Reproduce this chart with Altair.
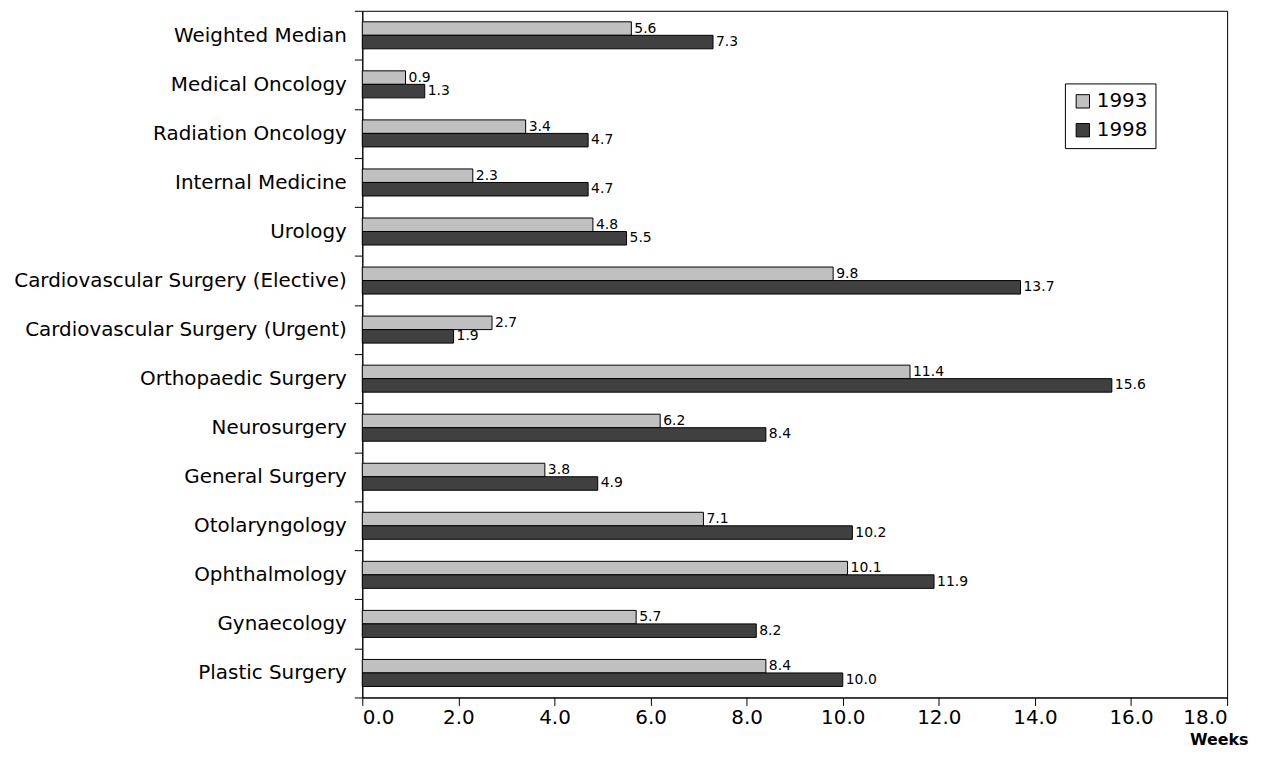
import altair as alt
import pandas as pd

categories = ["Weighted Median", "Medical Oncology", "Radiation Oncology", "Internal Medicine",
              "Urology", "Cardiovascular Surgery (Elective)", "Cardiovascular Surgery (Urgent)",
              "Orthopaedic Surgery", "Neurosurgery", "General Surgery", "Otolaryngology",
              "Ophthalmology", "Gynaecology", "Plastic Surgery"]
v1993 = [5.6, 0.9, 3.4, 2.3, 4.8, 9.8, 2.7, 11.4, 6.2, 3.8, 7.1, 10.1, 5.7, 8.4]
v1998 = [7.3, 1.3, 4.7, 4.7, 5.5, 13.7, 1.9, 15.6, 8.4, 4.9, 10.2, 11.9, 8.2, 10.0]
years = ["1993", "1998"]
x_ticks = [0, 2, 4, 6, 8, 10, 12, 14, 16, 18]

rows = []
for c, a, b in zip(categories, v1993, v1998):
    rows.append({"cat": c, "year": years[0], "val": a})
    rows.append({"cat": c, "year": years[1], "val": b})
df = pd.DataFrame(rows)

FONT = "DejaVu Sans"

y = alt.Y("cat:N", sort=categories, title=None,
          scale=alt.Scale(paddingInner=0, paddingOuter=0),
          axis=alt.Axis(tickBand="extent", labelFontSize=20, labelFont=FONT, labelColor="black",
                        tickColor="black", domainColor="black", tickSize=8, labelPadding=8,
                        labelLimit=600))
yoff = alt.YOffset("year:N", sort=years, scale=alt.Scale(paddingInner=0, paddingOuter=0.815))
x = alt.X("val:Q", scale=alt.Scale(domain=[0, 18], nice=False),
          axis=alt.Axis(values=x_ticks, format=".1f", labelFontSize=20, labelFont=FONT,
                        labelColor="black", tickColor="black", domainColor="black", tickSize=8,
                        labelPadding=2, grid=False, title="Weeks", titleFont=FONT,
                        titleFontSize=16, titleFontWeight="bold", titleColor="black",
                        titleAnchor="end", titleAlign="right", titleX=890, titleY=42,
                        titleBaseline="middle"))

bars = alt.Chart(df).mark_bar(stroke="black", strokeWidth=1).encode(
    y=y, yOffset=yoff, x=x,
    color=alt.Color("year:N", sort=years,
                    scale=alt.Scale(domain=years, range=["#C0C0C0", "#404040"]),
                    legend=alt.Legend(title=None, orient="none", legendX=706, legendY=73,
                                      symbolType="square", symbolSize=180,
                                      symbolStrokeColor="black", symbolStrokeWidth=1,
                                      labelFontSize=20, labelFont=FONT, labelColor="black",
                                      strokeColor="black", fillColor="white", padding=8,
                                      rowPadding=9, labelOffset=4)),
)

text = alt.Chart(df).mark_text(align="left", baseline="middle", dx=3, fontSize=14,
                               font=FONT, color="black").encode(
    y=y, yOffset=yoff, x=x, text=alt.Text("val:Q", format=".1f"))

chart = (bars + text).properties(
    width=869, height=690, background="white",
    padding={"left": 5, "top": -9, "right": 5, "bottom": 5}
).configure_view(stroke="black", strokeWidth=1)

chart.save("out.html", embed_options={"renderer": "svg", "actions": False})
